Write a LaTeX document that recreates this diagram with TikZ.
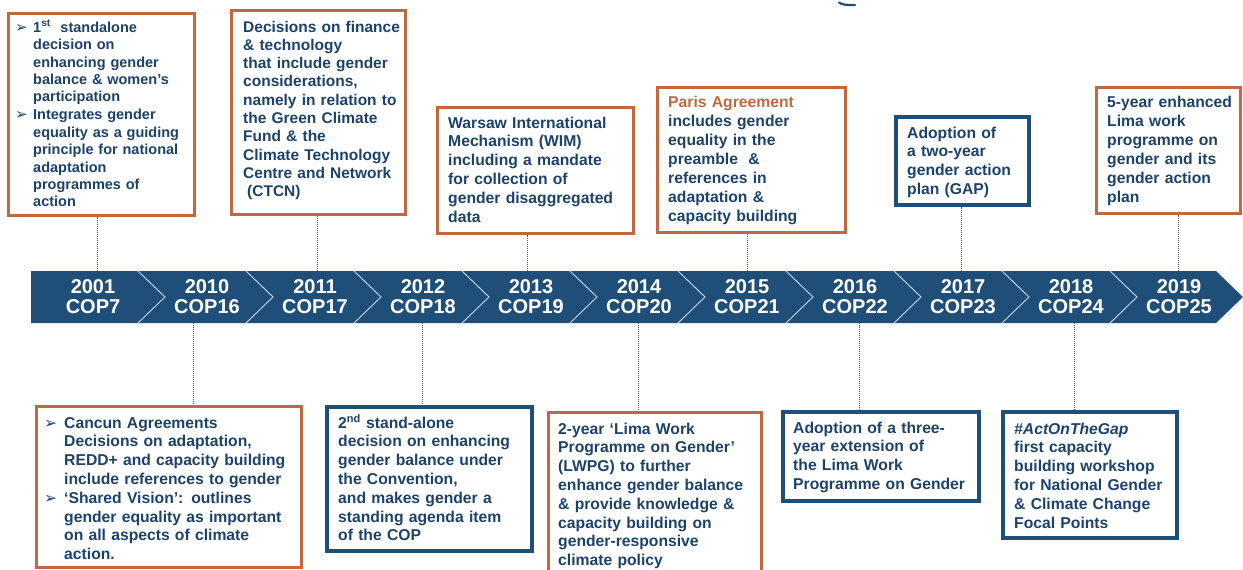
\documentclass[tikz,border=0pt]{standalone}
\usepackage{fontspec}
\setmainfont{Liberation Sans}
\newfontfamily\dejavu{DejaVu Sans}
\usetikzlibrary{fit}
\definecolor{bandblue}{RGB}{31,78,121}
\definecolor{txtblue}{RGB}{28,66,106}
\definecolor{borange}{RGB}{192,104,64}
\definecolor{connc}{RGB}{85,85,85}
\definecolor{chevc}{RGB}{205,218,232}
\newcommand{\bul}{\makebox[18pt][l]{\dejavu\fontsize{15}{15}\selectfont ➢}}
\newcommand{\ind}{\hspace*{18pt}}
\newcommand{\bulc}{\makebox[20pt][l]{\dejavu\fontsize{15.5}{15.5}\selectfont ➢}}
\newcommand{\indc}{\hspace*{20pt}}
\begin{document}
\begin{tikzpicture}[x=1pt,y=-1pt,
  obox/.style={draw=borange, line width=3pt, inner sep=0pt},
  bbox/.style={draw=bandblue, line width=3.2pt, inner sep=0pt},
  txt/.style={anchor=base west, inner sep=0pt, text width=280pt, align=left, text=txtblue,
    font=\fontsize{15.7}{18.8}\selectfont\bfseries},
  yr/.style={inner sep=0pt, align=center, text=white, font=\fontsize{20}{20}\selectfont\bfseries},
  conn/.style={draw=connc, line width=0.8pt, dash pattern=on 1pt off 1pt},
  chev/.style={draw=chevc, line width=0.9pt}]
\clip (0,0) rectangle (1243,570);
\fill[white] (0,0) rectangle (1243,570);
% timeline band
\fill[bandblue] (31,271) -- (1216,271) -- (1243,297) -- (1216,323) -- (31,323) -- cycle;
\foreach \i in {0,...,9}
  \draw[chev] ({138+108*\i},271) -- ({165+108*\i},297) -- ({138+108*\i},323);
% year labels
\node[yr] (y1) at (93,297) {2001\\COP7};
\node[yr] (y2) at (207,297) {2010\\COP16};
\node[yr] (y3) at (315,297) {2011\\COP17};
\node[yr] (y4) at (423,297) {2012\\COP18};
\node[yr] (y5) at (531,297) {2013\\COP19};
\node[yr] (y6) at (639,297) {2014\\COP20};
\node[yr] (y7) at (747,297) {2015\\COP21};
\node[yr] (y8) at (855,297) {2016\\COP22};
\node[yr] (y9) at (963,297) {2017\\COP23};
\node[yr] (y10) at (1071,297) {2018\\COP24};
\node[yr] (y11) at (1179,297) {2019\\COP25};
% anchor points on the band
\coordinate (t1) at (97,271);
\coordinate (t3) at (317,271);
\coordinate (t5) at (527,271);
\coordinate (t7) at (747,271);
\coordinate (t9) at (961,271);
\coordinate (t11) at (1178,271);
\coordinate (u2) at (193,323);
\coordinate (u4) at (422,323);
\coordinate (u6) at (638,323);
\coordinate (u8) at (859,323);
\coordinate (u10) at (1074,323);
% boxes
\node[obox, fit={(8,13) (194,215)}] (b1) {};
\node[obox, fit={(231,10) (405,214)}] (b2) {};
\node[obox, fit={(437,107) (633,233)}] (b3) {};
\node[obox, fit={(657,87) (845,232)}] (b4) {};
\node[bbox, fit={(896,117) (1029,205)}] (b5) {};
\node[obox, fit={(1096,87) (1240,213)}] (b6) {};
\node[obox, fit={(36,406) (301,567)}] (c1) {};
\node[bbox, fit={(327,407) (532,551)}] (c2) {};
\node[obox, fit={(548,412) (761,590)}] (c3) {};
\node[bbox, fit={(783,412) (979,501)}] (c4) {};
\node[bbox, fit={(1003,412) (1177,538)}] (c5) {};
% connectors
\draw[conn] (t1) -- (t1 |- b1.south);
\draw[conn] (t3) -- (t3 |- b2.south);
\draw[conn] (t5) -- (t5 |- b3.south);
\draw[conn] (t7) -- (t7 |- b4.south);
\draw[conn] (t9) -- (t9 |- b5.south);
\draw[conn] (t11) -- (t11 |- b6.south);
\draw[conn] (u2) -- (u2 |- c1.north);
\draw[conn] (u4) -- (u4 |- c2.north);
\draw[conn] (u6) -- (u6 |- c3.north);
\draw[conn] (u8) -- (u8 |- c4.north);
\draw[conn] (u10) -- (u10 |- c5.north);
% texts
\node[txt, font=\fontsize{14.5}{17.5}\selectfont\bfseries] (b1t) at (15,32) {\bul 1\textsuperscript{st}\ \ standalone\\
\ind decision on\\ \ind enhancing gender\\ \ind balance \& women’s\\ \ind participation\\
\bul Integrates gender\\ \ind equality as a guiding\\ \ind principle for national\\ \ind adaptation\\
\ind programmes of\\ \ind action};
\node[txt, font=\fontsize{15.5}{18.3}\selectfont\bfseries] (b2t) at (243,32) {Decisions on finance\\ \& technology\\ that include gender\\ considerations,\\ namely in relation to\\ the Green Climate\\ Fund \& the\\ Climate Technology\\ Centre and Network\\ \hspace*{4pt}(CTCN)};
\node[txt] (b3t) at (448,128) {Warsaw International\\ Mechanism (WIM)\\ including a mandate\\ for collection of\\ gender disaggregated\\ data};
\node[txt, font=\fontsize{15.7}{19}\selectfont\bfseries] (b4t) at (668,107) {{\color{borange}Paris Agreement}\\ includes gender\\ equality in the\\ preamble\ \ \&\\ references in\\ adaptation \&\\ capacity building};
\node[txt] (b5t) at (907,138) {Adoption of\\ a two-year\\ gender action\\ plan (GAP)};
\node[txt, font=\fontsize{15.7}{19}\selectfont\bfseries] (b6t) at (1107,107) {5-year enhanced\\ Lima work\\ programme on\\ gender and its\\ gender action\\ plan};
\node[txt] (c1t) at (44,428) {\bulc Cancun Agreements\\ \indc Decisions on adaptation,\\ \indc REDD+ and capacity building\\ \indc include references to gender\\
\bulc ‘Shared Vision’: outlines\\ \indc gender equality as important\\ \indc on all aspects of climate\\ \indc action.};
\node[txt] (c2t) at (338,428) {2\textsuperscript{nd} stand-alone\\ decision on enhancing\\ gender balance under\\ the Convention,\\ and makes gender a\\ standing agenda item\\ of the COP};
\node[txt] (c3t) at (558,434) {2-year ‘Lima Work\\ Programme on Gender’\\ (LWPG) to further\\ enhance gender balance\\ \& provide knowledge \&\\ capacity building on\\ gender-responsive\\ climate policy};
\node[txt] (c4t) at (793,433) {Adoption of a three-\\ year extension of\\ the Lima Work\\ Programme on Gender};
\node[txt] (c5t) at (1014,434) {\textit{\#ActOnTheGap}\\ first capacity\\ building workshop\\ for National Gender\\ \& Climate Change\\ Focal Points};
% small mark at the top edge
\draw[bandblue, line width=2.2pt, line cap=round] (839,2.5) .. controls (842,5) and (847,5) .. (855,5);
\end{tikzpicture}
\end{document}
